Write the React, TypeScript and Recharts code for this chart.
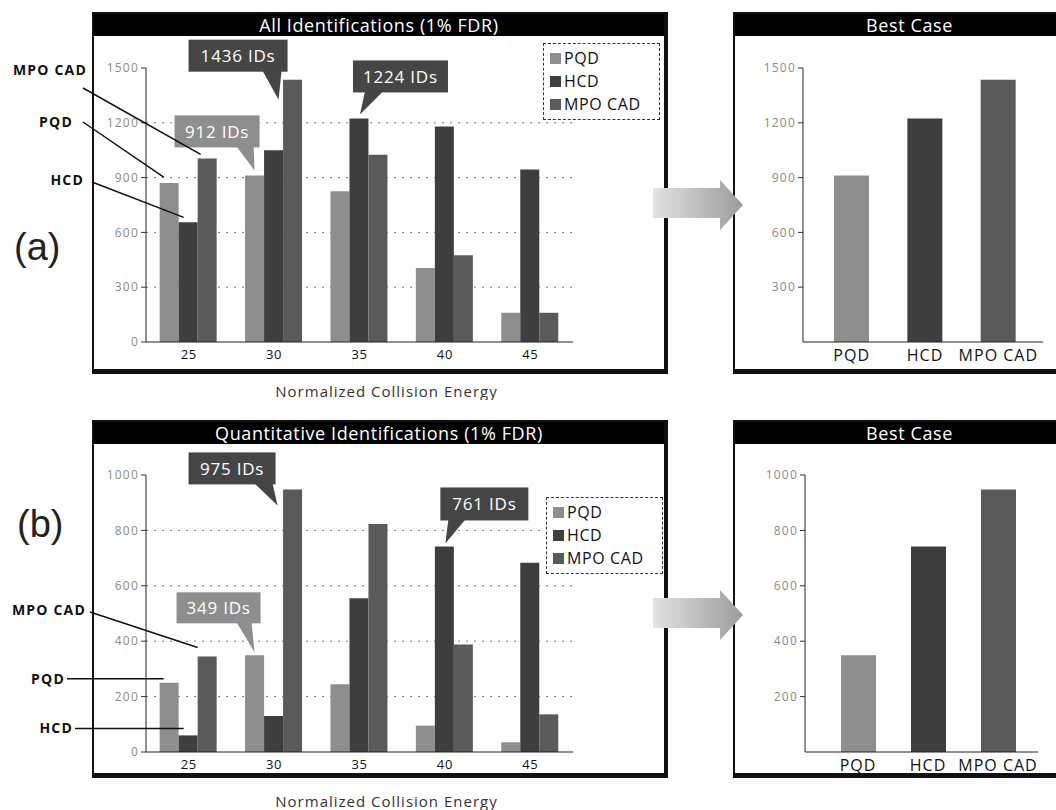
import React from 'react';
import { BarChart, Bar, XAxis, YAxis, CartesianGrid, Legend, LabelList, Cell } from 'recharts';

// ---------- data ----------
const energies = ['25', '30', '35', '40', '45'];
const allPQD = [870, 912, 825, 405, 160];
const allHCD = [655, 1050, 1224, 1180, 945];
const allMPO = [1005, 1436, 1025, 475, 160];
const quantPQD = [250, 349, 245, 95, 35];
const quantHCD = [60, 130, 555, 742, 683];
const quantMPO = [345, 948, 823, 388, 136];
const methods = ['PQD', 'HCD', 'MPO CAD'];
const bestAll = [912, 1224, 1436];
const bestQuant = [349, 742, 948];
const allTicks = [0, 300, 600, 900, 1200, 1500];
const allGridValues = [300, 600, 900, 1200];
const quantTicks = [0, 200, 400, 600, 800, 1000];
const quantGridValues = [200, 400, 600, 800];
const bestAllTicks = [300, 600, 900, 1200, 1500];
const bestQuantTicks = [200, 400, 600, 800, 1000];
const titleAll = 'All Identifications (1% FDR)';
const titleQuant = 'Quantitative Identifications (1% FDR)';
const titleBest = 'Best Case';
const xTitle = 'Normalized Collision Energy';
const calloutTextsAll = ['1436 IDs', '1224 IDs', '912 IDs'];
const calloutTextsQuant = ['975 IDs', '349 IDs', '761 IDs'];

// ---------- styles ----------
const FONT = '"Open Sans", Lato, "DejaVu Sans", sans-serif';
const COLORS: Record<string, string> = { PQD: '#8e8e8e', HCD: '#3e3e3e', 'MPO CAD': '#5a5a5a' };
const DARK_CALLOUT = '#454545';
const LIGHT_CALLOUT = '#8e8e8e';

const allData = energies.map((e, i) => ({ energy: e, PQD: allPQD[i], HCD: allHCD[i], 'MPO CAD': allMPO[i] }));
const quantData = energies.map((e, i) => ({ energy: e, PQD: quantPQD[i], HCD: quantHCD[i], 'MPO CAD': quantMPO[i] }));
const bestAllData = methods.map((m, i) => ({ method: m, value: bestAll[i] }));
const bestQuantData = methods.map((m, i) => ({ method: m, value: bestQuant[i] }));

type Callout = {
  series: string; index: number; text: string; fill: string;
  bx: number; by: number; w: number; h: number; t1: number; t2: number; tx: number; ty: number;
};
type Leader = {
  series: string; text: string; sx: number; sy: number; ex: number; ey: number;
  lx: number; ly: number; flat?: boolean;
};

const calloutsAll: Callout[] = [
  { series: 'MPO CAD', index: 1, text: calloutTextsAll[0], fill: DARK_CALLOUT, bx: -104, by: -40, w: 99, h: 32, t1: 74, t2: 93, tx: -14, ty: 20 },
  { series: 'HCD', index: 2, text: calloutTextsAll[1], fill: DARK_CALLOUT, bx: -6, by: -58, w: 95, h: 32, t1: 12, t2: 30, tx: 1, ty: -4 },
  { series: 'PQD', index: 1, text: calloutTextsAll[2], fill: LIGHT_CALLOUT, bx: -80, by: -60, w: 85, h: 32, t1: 62, t2: 79, tx: 0, ty: -5 },
];
const calloutsQuant: Callout[] = [
  { series: 'MPO CAD', index: 1, text: calloutTextsQuant[0], fill: DARK_CALLOUT, bx: -104, by: -37, w: 87, h: 32, t1: 66, t2: 84, tx: -15, ty: 16 },
  { series: 'PQD', index: 1, text: calloutTextsQuant[1], fill: LIGHT_CALLOUT, bx: -78, by: -63, w: 84, h: 31, t1: 60, t2: 75, tx: 0, ty: -3 },
  { series: 'HCD', index: 3, text: calloutTextsQuant[2], fill: DARK_CALLOUT, bx: -4, by: -59, w: 88, h: 33, t1: 8, t2: 25, tx: 1, ty: -3 },
];
const leadersAll: Leader[] = [
  { series: 'MPO CAD', text: 'MPO CAD', sx: 83, sy: 88, ex: 3, ey: -4, lx: 87, ly: 70 },
  { series: 'PQD', text: 'PQD', sx: 83, sy: 122, ex: 4, ey: -6, lx: 73, ly: 122 },
  { series: 'HCD', text: 'HCD', sx: 92, sy: 182, ex: 5, ey: -5, lx: 84, ly: 180 },
];
const leadersQuant: Leader[] = [
  { series: 'MPO CAD', text: 'MPO CAD', sx: 90, sy: 202, ex: 0, ey: -9, lx: 86, ly: 200 },
  { series: 'PQD', text: 'PQD', sx: 67, sy: 0, ex: 4, ey: -4, lx: 65, ly: 0, flat: true },
  { series: 'HCD', text: 'HCD', sx: 75, sy: 0, ex: 5, ey: -7, lx: 73, ly: 0, flat: true },
];

function makeLabelContent(series: string, callouts: Callout[], leaders: Leader[]) {
  return (props: any) => {
    const vb = props.viewBox || props;
    const x = Number(vb.x ?? props.x);
    const y = Number(vb.y ?? props.y);
    const w = Number(vb.width ?? props.width);
    const idx = props.index;
    const parts: React.ReactNode[] = [];
    const c = callouts.find((cc) => cc.series === series && cc.index === idx);
    if (c) {
      const cx = x + w / 2;
      const bl = cx + c.bx;
      const bt = y + c.by;
      parts.push(
        <g key="callout">
          <polygon points={`${bl + c.t1},${bt + c.h - 1} ${bl + c.t2},${bt + c.h - 1} ${cx + c.tx},${y + c.ty}`} fill={c.fill} />
          <rect x={bl} y={bt} width={c.w} height={c.h} fill={c.fill} />
          <text x={bl + c.w / 2} y={bt + c.h / 2} dy="0.36em" textAnchor="middle" fill="#fff" fontSize={17} letterSpacing={0.8} fontFamily={FONT}>
            {c.text}
          </text>
        </g>
      );
    }
    const l = leaders.find((ll) => ll.series === series);
    if (l && idx === 0) {
      const ex = x + l.ex;
      const ey = y + l.ey;
      const sy = l.flat ? ey : l.sy;
      const ly = l.flat ? ey : l.ly;
      parts.push(
        <g key="leader">
          <line x1={l.sx} y1={sy} x2={ex} y2={ey} stroke="#111" strokeWidth={1.5} />
          <text x={l.lx} y={ly} dy="0.36em" textAnchor="end" fill="#111" fontSize={14} letterSpacing={1.2} fontWeight={700} fontFamily={FONT}>
            {l.text}
          </text>
        </g>
      );
    }
    return parts.length ? <g>{parts}</g> : null;
  };
}

const renderLegend = (props: any) => {
  const payload = [...(props.payload || [])].sort((a: any, b: any) => methods.indexOf(a.value) - methods.indexOf(b.value));
  return (
    <div style={{ border: '1.5px dashed #333', padding: '3px 6px', background: '#fff', fontFamily: FONT, fontSize: 16, letterSpacing: 0.6, color: '#111' }}>
      {payload.map((p: any) => (
        <div key={p.value} style={{ display: 'flex', alignItems: 'center', lineHeight: '23px', whiteSpace: 'nowrap' }}>
          <span style={{ width: 11, height: 11, background: p.color, marginRight: 3, display: 'inline-block' }} />
          {p.value}
        </div>
      ))}
    </div>
  );
};

const AxisTitle = (props: any) => {
  const vb = props.viewBox || { x: 0, y: 0, width: 0, height: 0 };
  return (
    <text x={vb.x + vb.width / 2 + 27} y={vb.y + vb.height + 20} dy="0.36em" textAnchor="middle" fill="#333" fontSize={15} letterSpacing={1} fontFamily={FONT}>
      {xTitle}
    </text>
  );
};

const Frame = ({ left, top, width, height, title }: { left: number; top: number; width: number; height: number; title: string }) => (
  <div
    style={{
      position: 'absolute', left, top, width, height, boxSizing: 'border-box',
      borderTop: '2px solid #111', borderLeft: '2px solid #111', borderRight: '4px solid #111', borderBottom: '5px solid #111',
      background: '#fff',
    }}
  >
    <div style={{ height: 22, background: '#000', color: '#fff', fontFamily: FONT, fontSize: 18, letterSpacing: 0.6, lineHeight: '22px', textAlign: 'center', whiteSpace: 'nowrap' }}>
      {title}
    </div>
  </div>
);

type GroupProps = {
  top: number; data: any[]; ticks: number[]; gridValues: number[]; marginTop: number;
  callouts: Callout[]; leaders: Leader[]; legendLeft: number; legendTop: number;
};

const yTick = { fill: '#8a8a8a', fontSize: 12, letterSpacing: 1.2, fontFamily: FONT };

const GroupChart = ({ top, data, ticks, gridValues, marginTop, callouts, leaders, legendLeft, legendTop }: GroupProps) => (
  <div style={{ position: 'absolute', left: 0, top }}>
    <BarChart width={680} height={400} data={data} margin={{ top: marginTop, right: 107, bottom: 28, left: 86 }} barCategoryGap="16%" barGap={0}>
      <CartesianGrid vertical={false} horizontalValues={gridValues} stroke="#777" strokeDasharray="2 6" />
      <XAxis dataKey="energy" height={30} tickLine={false} axisLine={{ stroke: '#222' }} tick={{ fill: '#111', fontSize: 13, letterSpacing: 0.6, fontFamily: FONT }} label={<AxisTitle />} />
      <YAxis width={60} domain={[0, ticks[ticks.length - 1]]} ticks={ticks} tickSize={5} axisLine={{ stroke: '#222' }} tickLine={{ stroke: '#333' }} tick={yTick} interval={0} />
      <Legend layout="vertical" align="center" verticalAlign="middle" content={renderLegend} wrapperStyle={{ left: legendLeft, top: legendTop, width: 117 }} />
      {methods.map((m) => (
        <Bar key={m} dataKey={m} name={m} fill={COLORS[m]} isAnimationActive={false}>
          <LabelList dataKey={m} content={makeLabelContent(m, callouts, leaders)} />
        </Bar>
      ))}
    </BarChart>
  </div>
);

type BestProps = { top: number; left: number; data: any[]; ticks: number[]; marginTop: number; mLeft: number; mRight: number; padL: number; padR: number };

const BestChart = ({ top, left, data, ticks, marginTop, mLeft, mRight, padL, padR }: BestProps) => (
  <div style={{ position: 'absolute', left, top }}>
    <BarChart width={330} height={400} data={data} margin={{ top: marginTop, right: mRight, bottom: 28, left: mLeft }}>
      <XAxis dataKey="method" height={30} tickLine={false} axisLine={{ stroke: '#222' }} padding={{ left: padL, right: padR }} tick={{ fill: '#111', fontSize: 16, letterSpacing: 1, fontFamily: FONT }} interval={0} />
      <YAxis width={60} domain={[0, ticks[ticks.length - 1]]} ticks={ticks} tickSize={5} axisLine={{ stroke: '#222' }} tickLine={{ stroke: '#333' }} tick={yTick} interval={0} />
      <Bar dataKey="value" barSize={35} isAnimationActive={false}>
        {data.map((d: any) => (
          <Cell key={d.method} fill={COLORS[d.method]} />
        ))}
      </Bar>
    </BarChart>
  </div>
);

const Arrow = ({ top }: { top: number }) => (
  <svg style={{ position: 'absolute', left: 650, top: top - 5, overflow: 'visible' }} width={100} height={60}>
    <defs>
      <linearGradient id={`ag${top}`} x1="0" x2="1" y1="0" y2="0">
        <stop offset="0" stopColor="#e2e2e2" />
        <stop offset="1" stopColor="#9c9c9c" />
      </linearGradient>
    </defs>
    <polygon points="3,13 70,13 70,5 93,30 70,55 70,43 3,43" fill={`url(#ag${top})`} />
  </svg>
);

const PanelLabel = ({ text, left, top }: { text: string; left: number; top: number }) => (
  <div style={{ position: 'absolute', left, top, fontFamily: '"Liberation Sans", Arial, sans-serif', fontSize: 38, lineHeight: 1, color: '#222' }}>{text}</div>
);

export default function App() {
  return (
    <div style={{ position: 'absolute', left: 0, top: 0, width: 1056, height: 810, overflow: 'hidden', background: '#fff', fontFamily: FONT }}>
      <Frame left={92} top={12} width={576} height={362} title={titleAll} />
      <Frame left={733} top={12} width={355} height={362} title={titleBest} />
      <Frame left={92} top={420} width={576} height={358} title={titleQuant} />
      <Frame left={733} top={420} width={355} height={358} title={titleBest} />

      <GroupChart top={0} data={allData} ticks={allTicks} gridValues={allGridValues} marginTop={68} callouts={calloutsAll} leaders={leadersAll} legendLeft={543} legendTop={43} />
      <GroupChart top={410} data={quantData} ticks={quantTicks} gridValues={quantGridValues} marginTop={65} callouts={calloutsQuant} leaders={leadersQuant} legendLeft={546} legendTop={87} />

      <BestChart top={0} left={733} data={bestAllData} ticks={bestAllTicks} marginTop={68} mLeft={10} mRight={20} padL={12} padR={8} />
      <BestChart top={410} left={733} data={bestQuantData} ticks={bestQuantTicks} marginTop={65} mLeft={12} mRight={25} padL={18} padR={5} />

      <Arrow top={180} />
      <Arrow top={590} />

      <PanelLabel text="(a)" left={14} top={228} />
      <PanelLabel text="(b)" left={17} top={505} />
    </div>
  );
}
